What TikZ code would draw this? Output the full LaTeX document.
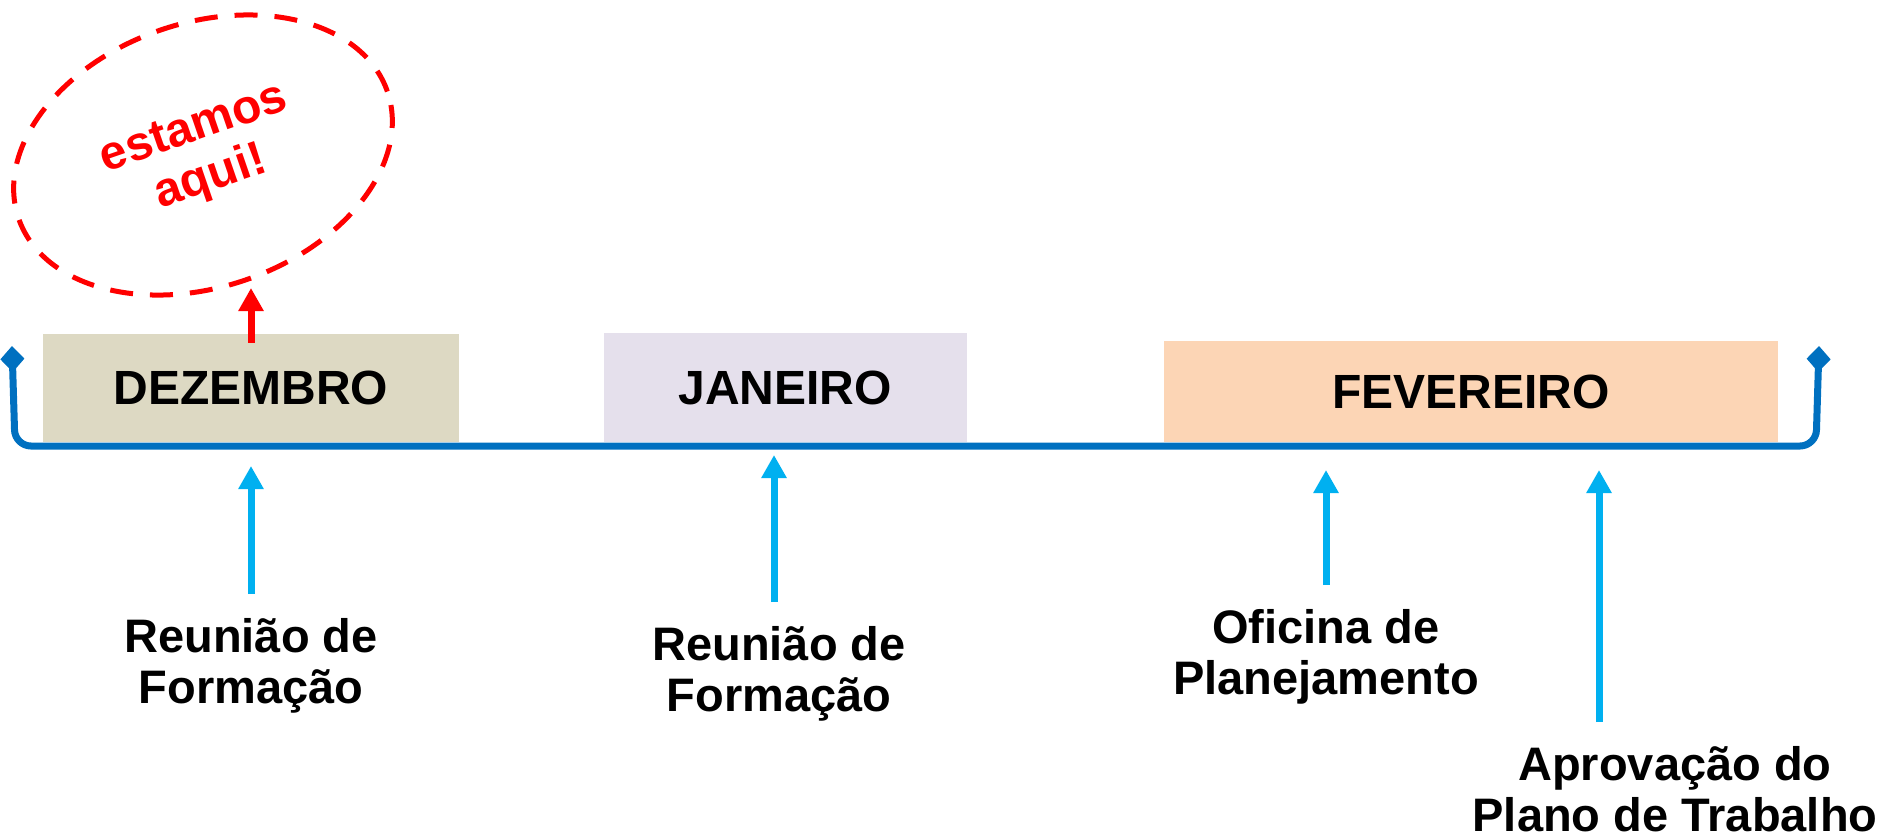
\documentclass[tikz,border=0pt]{standalone}
\usepackage{fontspec}
\setmainfont{Liberation Sans}
\usepackage{tikz}
\usetikzlibrary{arrows.meta, positioning, shapes.geometric}
\definecolor{timeblue}{RGB}{0,112,192}
\definecolor{arrowblue}{RGB}{0,176,240}
\definecolor{dezcolor}{RGB}{221,217,195}
\definecolor{jancolor}{RGB}{229,224,236}
\definecolor{fevcolor}{RGB}{252,213,181}

\begin{document}
\begin{tikzpicture}[
        x=0.5pt, y=-0.5pt,
        mes/.style={rectangle, inner sep=0pt, font=\fontsize{24}{26}\selectfont\bfseries},
        evento/.style={align=center, inner xsep=0pt, inner ysep=12pt, font=\fontsize{23.5}{25.5}\selectfont\bfseries},
        seta/.style={draw=arrowblue, line width=3.5pt, -{Triangle[length=11.5pt, width=12pt]}},
        setaaqui/.style={draw=red, line width=3.5pt, -{Triangle[length=11.5pt, width=12pt]}},
        linha/.style={draw=timeblue, line width=3.5pt, rounded corners=8pt, {Diamond[length=13pt, width=12pt]}-{Diamond[length=13pt, width=12pt]}},
        balao/.style={ellipse, draw=red, line width=2.5pt, dash pattern=on 11.5pt off 8.5pt, text=red, align=center, inner sep=0pt, font=\fontsize{24}{26}\selectfont\bfseries}
    ]
    \useasboundingbox (0,0) rectangle (1885,837);

    % meses
    \node[mes, fill=dezcolor, minimum width=208pt, minimum height=54pt] (dez) at (251,388) {DEZEMBRO};
    \node[mes, fill=jancolor, minimum width=181.5pt, minimum height=54.5pt] (jan) at (785,387.5) {JANEIRO};
    \node[mes, fill=fevcolor, minimum width=307pt, minimum height=50.5pt] (fev) at (1471,391.5) {FEVEREIRO};

    % linha do tempo
    \coordinate (ini) at (12,346);
    \coordinate (fim) at (1819,346);
    \draw[linha] (ini) -- (15,446) -- (1816,446) -- (fim);

    % estamos aqui
    \node[balao, rotate=19, minimum width=195pt, minimum height=132pt] (aqui) at (203,155) {estamos\\aqui!};
    \coordinate (aquitip) at (251,288);
    \draw[setaaqui] ([yshift=-4.5pt]dez.north) -- (aquitip);

    % eventos
    \coordinate (tip1) at (251,466);
    \coordinate (tip2) at (774,455);
    \coordinate (tip3) at (1326,470);
    \coordinate (tip4) at (1599,470);

    \node[evento, below=64pt of tip1] (reu1) {Reunião de\\Formação};
    \node[evento, below=73.5pt of tip2, xshift=2.5pt] (reu2) {Reunião de\\Formação};
    \node[evento, below=57.5pt of tip3] (ofi) {Oficina de\\Planejamento};
    \node[evento, below=126pt of tip4, xshift=38pt] (apr) {Aprovação do\\Plano de Trabalho};

    \draw[seta] (reu1.north -| tip1) -- (tip1);
    \draw[seta] (reu2.north -| tip2) -- (tip2);
    \draw[seta] (ofi.north -| tip3) -- (tip3);
    \draw[seta] (apr.north -| tip4) -- (tip4);

\end{tikzpicture}
\end{document}
